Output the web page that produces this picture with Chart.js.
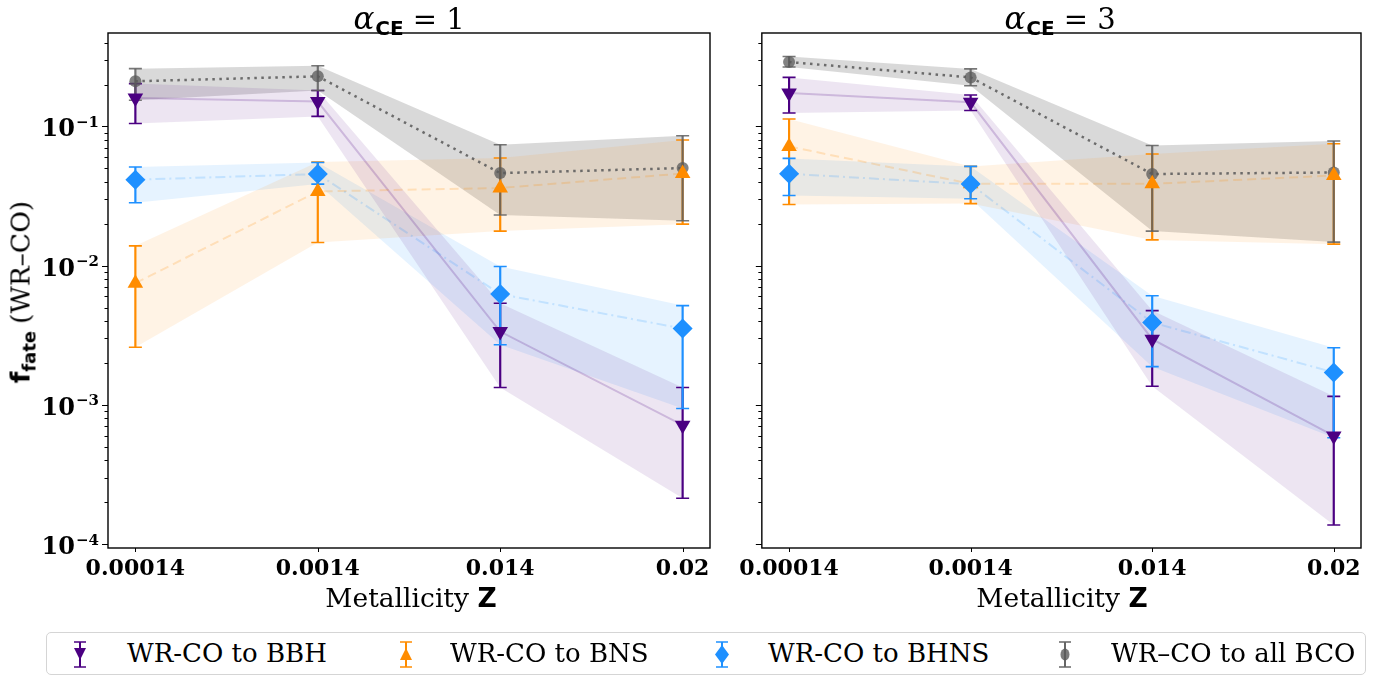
<!DOCTYPE html>
<html><head><meta charset="utf-8">
<script src="https://cdn.jsdelivr.net/npm/chart.js@4.4.0/dist/chart.umd.min.js"></script>
<style>
body{margin:0;background:#fff;}
#wrap{position:relative;width:1390px;height:679px;overflow:hidden;background:#fff;}
canvas{position:absolute;top:0;}
.title{position:absolute;top:0;transform:translateX(-50%);font-family:'DejaVu Serif';font-size:29px;white-space:nowrap;line-height:36px;color:#000;}
.title i{font-style:italic;font-size:31px;}
.title .sb{font-family:'DejaVu Sans';font-weight:bold;font-size:20px;position:relative;top:6px;margin-left:1px;margin-right:9px;}
.xt{position:absolute;top:581px;transform:translateX(-50%);font-family:'DejaVu Serif';font-size:26.5px;white-space:nowrap;line-height:34px;color:#000;}
.xt b{font-family:'DejaVu Sans';font-weight:bold;}
.yt{position:absolute;left:22px;top:292px;transform:translate(-50%,-50%) rotate(-90deg);font-family:'DejaVu Serif';font-size:26.5px;white-space:nowrap;line-height:34px;color:#000;}
.yt b{font-family:'DejaVu Sans';font-weight:bold;}
.yt .sb{font-family:'DejaVu Sans';font-weight:bold;font-size:18px;position:relative;top:6px;margin-right:7px;}
.legend{position:absolute;left:46px;top:632px;width:1320px;height:43px;border:1.5px solid #d5d5d5;border-radius:5px;box-sizing:border-box;}
.lt{position:absolute;top:636px;font-family:'DejaVu Serif';font-size:26px;line-height:34px;white-space:nowrap;color:#000;}
.li{position:absolute;top:637px;}
</style></head>
<body><div id="wrap">
<canvas id="c1" width="730" height="620" style="left:0;width:730px;height:620px"></canvas>
<canvas id="c2" width="660" height="620" style="left:730px;width:660px;height:620px"></canvas>
<div class="title" style="left:409px"><i>α</i><span class="sb">CE</span>= 1</div>
<div class="title" style="left:1060px"><i>α</i><span class="sb">CE</span>= 3</div>
<div class="xt" style="left:411px">Metallicity <b>Z</b></div>
<div class="xt" style="left:1062px">Metallicity <b>Z</b></div>
<div class="yt"><b>f</b><span class="sb">fate</span>(WR–CO)</div>
<div class="legend"></div>
<svg class="li" style="left:70px" width="20" height="34"><line x1="10" y1="5" x2="10" y2="30" stroke="#4B0082" stroke-width="2"/><line x1="4" y1="5" x2="16" y2="5" stroke="#4B0082" stroke-width="1.5"/><line x1="4" y1="30" x2="16" y2="30" stroke="#4B0082" stroke-width="1.5"/><polygon points="4,11 16,11 10,23" fill="#4B0082"/></svg>
<div class="lt" style="left:127px">WR-CO to BBH</div>
<svg class="li" style="left:396px" width="20" height="34"><line x1="10" y1="5" x2="10" y2="30" stroke="#FF8C00" stroke-width="2"/><line x1="4" y1="5" x2="16" y2="5" stroke="#FF8C00" stroke-width="1.5"/><line x1="4" y1="30" x2="16" y2="30" stroke="#FF8C00" stroke-width="1.5"/><polygon points="4,23 16,23 10,11" fill="#FF8C00"/></svg>
<div class="lt" style="left:450px">WR-CO to BNS</div>
<svg class="li" style="left:712px" width="20" height="34"><line x1="10" y1="5" x2="10" y2="30" stroke="#1E90FF" stroke-width="2"/><line x1="4" y1="5" x2="16" y2="5" stroke="#1E90FF" stroke-width="1.5"/><line x1="4" y1="30" x2="16" y2="30" stroke="#1E90FF" stroke-width="1.5"/><polygon points="10,8 17,17.5 10,27 3,17.5" fill="#1E90FF"/></svg>
<div class="lt" style="left:768px">WR-CO to BHNS</div>
<svg class="li" style="left:1055px" width="20" height="34"><line x1="10" y1="5" x2="10" y2="30" stroke="#666" stroke-width="2"/><line x1="4" y1="5" x2="16" y2="5" stroke="#666" stroke-width="1.5"/><line x1="4" y1="30" x2="16" y2="30" stroke="#666" stroke-width="1.5"/><ellipse cx="10" cy="17.5" rx="4.5" ry="6" fill="rgba(90,90,90,0.8)"/></svg>
<div class="lt" style="left:1111px">WR–CO to all BCO</div>
</div>
<script>
const categories = ['0.00014', '0.0014', '0.014', '0.02'];
const yMajorTicks = [1e-4, 1e-3, 1e-2, 1e-1];
const yMajorExponents = ['−4', '−3', '−2', '−1'];
const yMinorMultipliers = [2, 3, 4, 5, 6, 7, 8, 9];

// alpha_CE = 1
const bbh1   = [0.160, 0.151, 0.00336, 0.000714];
const bbh1Lo = [0.105, 0.118, 0.00133, 0.000213];
const bbh1Hi = [0.203, 0.181, 0.00537, 0.00133];
const bns1   = [0.00748, 0.0341, 0.0361, 0.0459];
const bns1Lo = [0.00259, 0.01466, 0.0177, 0.01986];
const bns1Hi = [0.01387, 0.0555, 0.0593, 0.0798];
const bhns1   = [0.0414, 0.0455, 0.00624, 0.00353];
const bhns1Lo = [0.0283, 0.0385, 0.0027, 0.00094];
const bhns1Hi = [0.0511, 0.0551, 0.00986, 0.00516];
const bco1   = [0.211, 0.229, 0.0462, 0.0502];
const bco1Lo = [0.154, 0.181, 0.0231, 0.0210];
const bco1Hi = [0.260, 0.273, 0.0739, 0.0857];

// alpha_CE = 3
const bbh3   = [0.174, 0.149, 0.00296, 0.000597];
const bbh3Lo = [0.125, 0.130, 0.00136, 0.000137];
const bbh3Hi = [0.225, 0.168, 0.00475, 0.00115];
const bns3   = [0.0718, 0.0387, 0.0387, 0.0444];
const bns3Lo = [0.0275, 0.0279, 0.0153, 0.01426];
const bns3Hi = [0.113, 0.0516, 0.0633, 0.075];
const bhns3   = [0.0457, 0.0385, 0.0039, 0.00171];
const bhns3Lo = [0.0319, 0.0302, 0.00188, 0.00058];
const bhns3Hi = [0.0589, 0.0516, 0.00607, 0.00257];
const bco3   = [0.290, 0.225, 0.0455, 0.0467];
const bco3Lo = [0.267, 0.196, 0.0177, 0.01476];
const bco3Hi = [0.318, 0.259, 0.073, 0.0785];

const Y_MIN = 9.36e-5, Y_MAX = 0.469;
const X_MIN = -0.15, X_MAX = 3.15;

const seriesStyle = {
  bbh:  {band:'rgba(75,0,130,0.10)', line:'rgba(75,0,130,0.2)', dash:[], lw:2, pt:'triangle', rot:180, r:9, fillc:'#4B0082', err:'#4B0082', order:2},
  bns:  {band:'rgba(255,140,0,0.10)', line:'rgba(255,140,0,0.20)', dash:[9,5], lw:2, pt:'triangle', rot:0, r:9, fillc:'#FF8C00', err:'#FF8C00', order:1},
  bhns: {band:'rgba(30,144,255,0.11)', line:'rgba(30,144,255,0.18)', dash:[10,4,2,4], lw:2, pt:'rectRot', rot:0, r:10, fillc:'#1E90FF', err:'#1E90FF', order:0},
  bco:  {band:'rgba(128,128,128,0.30)', line:'rgba(95,95,95,0.9)', dash:[2.5,4.5], lw:2.5, pt:'circle', rot:0, r:6, fillc:'rgba(90,90,90,0.75)', err:'rgba(95,95,95,0.85)', order:3}
};

const toPts = arr => arr.map((v, i) => ({x: i, y: v}));

function buildDatasets(panel) {
  const ds = [];
  let k = 0;
  for (const key of ['bbh', 'bns', 'bhns', 'bco']) {
    const st = seriesStyle[key];
    const [vals, lo, hi] = panel[key];
    ds.push({data: toPts(hi), borderWidth: 0, borderColor: 'rgba(0,0,0,0)', pointRadius: 0, fill: false, order: 20 + k});
    ds.push({data: toPts(lo), borderWidth: 0, borderColor: 'rgba(0,0,0,0)', pointRadius: 0, fill: '-1', backgroundColor: st.band, order: 20 + k});
    ds.push({data: toPts(vals), borderColor: st.line, borderWidth: st.lw, borderDash: st.dash, fill: false,
      pointStyle: st.pt, pointRotation: st.rot, pointRadius: st.r, pointBackgroundColor: st.fillc,
      pointBorderWidth: 0, pointBorderColor: 'rgba(0,0,0,0)', order: st.order,
      errLo: lo, errHi: hi, errColor: st.err, drawErrs: key === 'bco'});
    k++;
  }
  return ds;
}

const errPlugin = {
  id: 'errbars',
  beforeDatasetDraw(chart, args) {
    const d = chart.data.datasets[args.index];
    if (!d.drawErrs) return;
    const ctx = chart.ctx, xs = chart.scales.x, ys = chart.scales.y;
    ctx.save();
    for (const ds of chart.data.datasets) {
      if (!ds.errLo) continue;
      ctx.strokeStyle = ds.errColor;
      ds.data.forEach((p, i) => {
        const px = xs.getPixelForValue(p.x);
        const pl = ys.getPixelForValue(ds.errLo[i]);
        const ph = ys.getPixelForValue(ds.errHi[i]);
        ctx.lineWidth = 2.2;
        ctx.beginPath(); ctx.moveTo(px, ph); ctx.lineTo(px, pl); ctx.stroke();
        ctx.lineWidth = 1.6;
        ctx.beginPath(); ctx.moveTo(px - 6.5, ph); ctx.lineTo(px + 6.5, ph);
        ctx.moveTo(px - 6.5, pl); ctx.lineTo(px + 6.5, pl); ctx.stroke();
      });
    }
    ctx.restore();
  }
};

const framePlugin = {
  id: 'frame',
  afterDraw(chart) {
    const ctx = chart.ctx, a = chart.chartArea, xs = chart.scales.x, ys = chart.scales.y;
    ctx.save();
    ctx.strokeStyle = '#000';
    ctx.lineWidth = 1;
    ys.ticks.forEach(t => {
      const p = Math.round(ys.getPixelForValue(t.value)) + 0.5;
      const len = t.major ? 6 : 3.5;
      ctx.beginPath(); ctx.moveTo(a.left - len, p); ctx.lineTo(a.left, p); ctx.stroke();
    });
    xs.ticks.forEach(t => {
      const p = Math.round(xs.getPixelForValue(t.value)) + 0.5;
      ctx.beginPath(); ctx.moveTo(p, a.bottom); ctx.lineTo(p, a.bottom + 4); ctx.stroke();
    });
    ctx.lineWidth = 1.4;
    ctx.strokeRect(a.left, a.top, a.right - a.left, a.bottom - a.top);
    // y tick labels: 10 with superscript exponent
    if (chart.options.showYLabels) {
      ctx.fillStyle = '#000';
      ctx.textAlign = 'right';
      ctx.textBaseline = 'alphabetic';
      yMajorTicks.forEach((m, i) => {
        const p = ys.getPixelForValue(m);
        const right = a.left - 9;
        ctx.font = 'bold 15px "DejaVu Serif"';
        const ew = ctx.measureText(yMajorExponents[i]).width;
        ctx.fillText(yMajorExponents[i], right, p + 0.5);
        ctx.font = 'bold 24px "DejaVu Serif"';
        ctx.fillText('10', right - ew - 1, p + 10);
      });
    }
    ctx.restore();
  }
};

function makeChart(id, panel, showYLabels, yWidth, rightPad) {
  return new Chart(document.getElementById(id), {
    type: 'line',
    data: {datasets: buildDatasets(panel)},
    options: {
      showYLabels: showYLabels,
      responsive: false, animation: false, events: [],
      layout: {padding: {top: 33, right: rightPad, left: 0, bottom: 0}},
      elements: {line: {tension: 0}},
      plugins: {legend: {display: false}, tooltip: {enabled: false}},
      scales: {
        x: {
          type: 'linear', min: X_MIN, max: X_MAX,
          afterBuildTicks: s => { s.ticks = categories.map((c, i) => ({value: i})); },
          afterFit: s => { s.height = 72; },
          grid: {display: false, drawTicks: false},
          border: {display: false},
          ticks: {callback: v => categories[v], autoSkip: false, maxRotation: 0, padding: 8,
            color: '#000', font: {family: 'DejaVu Serif', weight: 'bold', size: 22}}
        },
        y: {
          type: 'logarithmic', min: Y_MIN, max: Y_MAX,
          afterBuildTicks: s => {
            const t = [];
            for (const m of yMajorTicks) {
              t.push({value: m, major: true});
              for (const k of yMinorMultipliers) { const v = m * k; if (v <= Y_MAX) t.push({value: v, major: false}); }
            }
            s.ticks = t;
          },
          afterFit: s => { s.width = yWidth; },
          grid: {display: false, drawTicks: false},
          border: {display: false},
          ticks: {display: false}
        }
      }
    },
    plugins: [errPlugin, framePlugin]
  });
}

makeChart('c1', {bbh: [bbh1, bbh1Lo, bbh1Hi], bns: [bns1, bns1Lo, bns1Hi], bhns: [bhns1, bhns1Lo, bhns1Hi], bco: [bco1, bco1Lo, bco1Hi]}, true, 108, 20);
makeChart('c2', {bbh: [bbh3, bbh3Lo, bbh3Hi], bns: [bns3, bns3Lo, bns3Hi], bhns: [bhns3, bhns3Lo, bhns3Hi], bco: [bco3, bco3Lo, bco3Hi]}, false, 29, 29);
</script>
</body></html>
